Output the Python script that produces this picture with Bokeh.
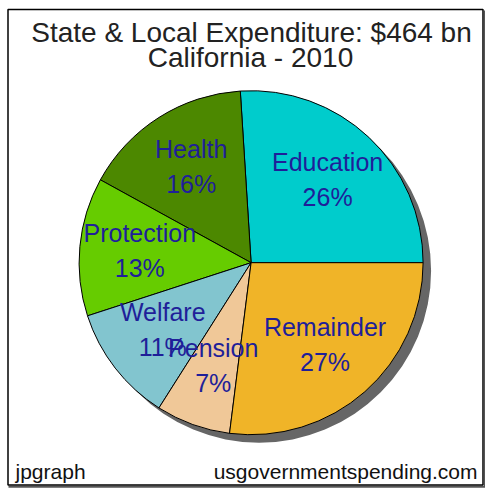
import numpy as np
from bokeh.plotting import figure
from bokeh.models import Range1d, ColumnDataSource
from bokeh.core.properties import value
from bokeh.embed import file_html
from bokeh.resources import INLINE

# ---- data ----
categories = ["Education", "Health", "Protection", "Welfare", "Pension", "Remainder"]
shares = [26, 16, 13, 11, 7, 27]
slice_colors = ["#00CCCC", "#4C8800", "#66CC00", "#82C5CF", "#F0C898", "#F0B428"]
title_lines = ["State & Local Expenditure: $464 bn", "California - 2010"]
footer_left = "jpgraph"
footer_right = "usgovernmentspending.com"

# ---- layout ----
W, H = 485, 488
FONT = value("Liberation Sans")
cx, cy, R = 250.6, 225.8, 172.0
label_frac = 0.65

p = figure(width=W, height=H, x_range=Range1d(0, W), y_range=Range1d(0, H),
           output_backend="svg", toolbar_location=None, min_border=0,
           x_axis_type=None, y_axis_type=None)
p.grid.visible = False
p.outline_line_color = None
p.background_fill_color = "white"
p.border_fill_color = "white"

# frame with thin drop shadow
p.segment(x0=[8, 484.5], y0=[1.8, 1.8], x1=[484.5, 484.5], y1=[1.8, 478],
          line_color="#555555", line_width=2)
p.quad(left=7.5, right=482.5, bottom=3.5, top=479, fill_color=None,
       line_color="black", line_width=1.5)

# pie
vals = np.array(shares, dtype=float)
frac = vals / vals.sum()
ends = np.cumsum(frac) * 2 * np.pi
starts = ends - frac * 2 * np.pi
mids = (starts + ends) / 2

src = ColumnDataSource(dict(
    start=starts, end=ends, color=slice_colors,
    lx=cx + label_frac * R * np.cos(mids),
    ly=cy + label_frac * R * np.sin(mids) + 2,
    label=[f"{c}\n{s}%" for c, s in zip(categories, shares)],
))

# shadow
p.circle(x=[cx + 8], y=[cy - 8], radius=R, fill_color="#666666", line_color=None)
p.wedge(x=cx, y=cy, radius=R, start_angle="start", end_angle="end",
        fill_color="color", line_color="black", line_width=1, source=src)

p.text(x="lx", y="ly", text="label", source=src, text_align="center",
       text_baseline="middle", text_font=FONT, text_font_size="25px",
       text_color="#1F1F99", text_line_height=1.25)

# titles
p.text(x=[251, 250], y=[456, 431], text=title_lines, text_align="center",
       text_baseline="alphabetic", text_font=FONT, text_font_size="28px",
       text_color="#222222")

# footers
p.text(x=[15], y=[17], text=[footer_left], text_align="left",
       text_baseline="alphabetic", text_font=FONT, text_font_size="21px",
       text_color="#111111")
p.text(x=[477], y=[17], text=[footer_right], text_align="right",
       text_baseline="alphabetic", text_font=FONT, text_font_size="21px",
       text_color="#111111")

open("out.html", "w").write(file_html(p, INLINE))
